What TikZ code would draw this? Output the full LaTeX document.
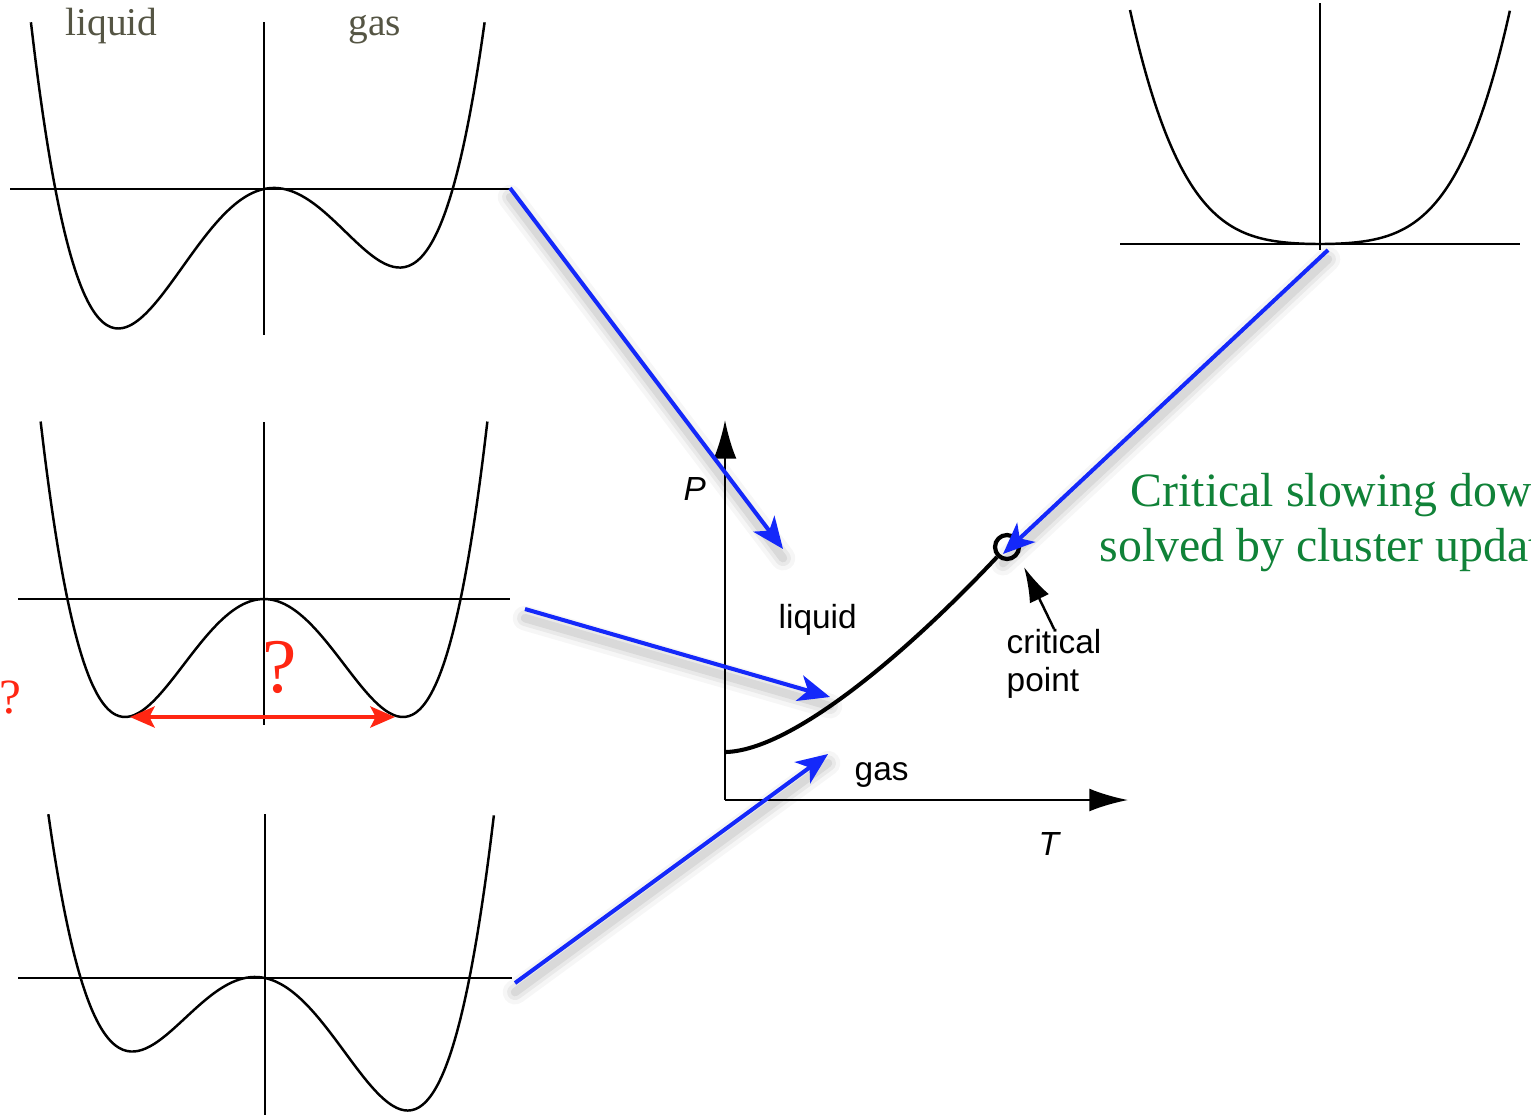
\documentclass[tikz,border=0pt]{standalone}
\usepackage{fontspec}
\setmainfont{Liberation Serif}
\setsansfont{Liberation Sans}
\usetikzlibrary{arrows.meta}

\definecolor{myblue}{RGB}{20,40,250}
\definecolor{myred}{RGB}{255,38,18}
\definecolor{mygreen}{RGB}{16,130,56}
\definecolor{mygray}{RGB}{85,85,68}

\tikzset{
	potaxis/.style={black, line width=0.45pt},
	potcurve/.style={black, line width=0.7pt},
	phaseaxis/.style={black, line width=0.65pt, -{Latex[length=11pt,width=6.5pt]}},
	phaselabel/.style={font=\sffamily\fontsize{9.5}{10.8}\selectfont, inner sep=0pt},
	welllabel/.style={text=mygray, font=\fontsize{11.2}{13}\selectfont, inner sep=0pt, anchor=base west},
	qmark/.style={text=myred, inner sep=0pt, anchor=base},
	slowtext/.style={text=mygreen, font=\fontsize{13.6}{15.6}\selectfont, inner sep=0pt, anchor=base west},
	redarrow/.style={draw=myred, line width=1.1pt,
		{Stealth[length=7pt,width=6pt,inset=1.5pt]}-{Stealth[length=7pt,width=6pt,inset=1.5pt]}},
	critarrow/.style={black, line width=0.7pt, -{Latex[length=10pt,width=6pt]}},
	bluearrow/.style={draw=myblue, line width=1.15pt, -{Stealth[length=9pt,width=7.5pt,inset=2.5pt]},
		preaction={draw=black, opacity=0.035, line width=7pt, line cap=round, arrows=-,
			transform canvas={yshift=-2.6pt}},
		preaction={draw=black, opacity=0.05, line width=4.5pt, line cap=round, arrows=-,
			transform canvas={yshift=-2.6pt}},
		preaction={draw=black, opacity=0.07, line width=2.4pt, line cap=round, arrows=-,
			transform canvas={yshift=-2.6pt}}}
}

\begin{document}
\begin{tikzpicture}[x=0.01cm, y=-0.01cm]
	
	\useasboundingbox (0,0) rectangle (1531,1115);
	\clip (0,0) rectangle (1531,1115);
	
	% upper well, liquid deeper
	\draw[potaxis] (10,189) -- (510,189);
	\draw[potaxis] (264,22) -- (264,335);
	\draw[potcurve] plot[domain=-1.653:1.565, samples=120, smooth]
		({264+141*\x},{189-108.5*(\x*\x*\x*\x-2*\x*\x+0.281*\x)});
	\node[welllabel] (liqlbl) at (65,35) {liquid};
	\node[welllabel] (gaslbl) at (348,35) {gas};
	\coordinate (wellA) at (510,188);
	
	% symmetric well
	\draw[potaxis] (18,599) -- (510,599);
	\draw[potaxis] (264,422) -- (264,725);
	\draw[potcurve] plot[domain=-1.607:1.607, samples=120, smooth]
		({264+139*\x},{599-118*(\x*\x*\x*\x-2*\x*\x)});
	\coordinate (lmin) at (130,717);
	\coordinate (rmin) at (395,717);
	\draw[redarrow] (lmin) -- (rmin);
	\node[qmark, font=\fontsize{22}{24}\selectfont] (qmid) at (280,692) {?};
	\node[qmark, font=\fontsize{14}{16}\selectfont] (qleft) at (10,713) {?};
	\coordinate (wellB) at (525,609);
	
	% lower well, gas deeper
	\draw[potaxis] (18,978) -- (512,978);
	\draw[potaxis] (265,814) -- (265,1115);
	\draw[potcurve] plot[domain=-1.57:1.66, samples=120, smooth]
		({265+138*\x},{978-102.5*(\x*\x*\x*\x-2*\x*\x-0.288*\x)});
	\coordinate (wellC) at (515,983);
	
	% flat well at the critical point
	\draw[potaxis] (1120,244) -- (1520,244);
	\draw[potaxis] (1320,3) -- (1320,250);
	\draw[potcurve] plot[domain=-1:1, samples=120, smooth]
		({1320+190*\x},{244-234*(0.83*\x*\x*\x*\x+0.17*\x*\x)});
	\coordinate (wellD) at (1328,250);
	
	% phase diagram
	\coordinate (origin) at (725,800);
	\draw[phaseaxis] (origin) -- (725,420);
	\draw[phaseaxis] (origin) -- (1128,800);
	\node[phaselabel, anchor=base west] (plbl) at (683,500) {\textit{P}};
	\node[phaselabel, anchor=base west] (tlbl) at (1038,855) {\textit{T}};
	\node[phaselabel, anchor=base west] (liqreg) at (778,628) {liquid};
	\node[phaselabel, anchor=base west] (gasreg) at (854,780) {gas};
	
	\node[circle, draw, line width=1.2pt, minimum size=0.24cm, inner sep=0pt] (crit) at (1007,547) {};
	\draw[line width=1.15pt] (726,752) .. controls (790,750) and (900,660) .. (crit.225);
	\node[phaselabel, anchor=north west, align=left] (critlbl) at (1006,629) {critical\\point};
	\coordinate (crittip) at (1024,567);
	\draw[critarrow] (critlbl.north) -- (crittip);
	
	% blue arrows
	\coordinate (liqpt) at (783,549);
	\coordinate (coexpt) at (830,697);
	\coordinate (gaspt) at (828,754);
	\coordinate (critpt) at (1003,554);
	\draw[bluearrow] (wellA) -- (liqpt);
	\draw[bluearrow] (wellB) -- (coexpt);
	\draw[bluearrow] (wellC) -- (gaspt);
	\draw[bluearrow] (wellD) -- (critpt);
	
	\node[slowtext] (slowtxt) at (1130,506) {Critical slowing down};
	\node[slowtext] (clustertxt) at (1099,561) {solved by cluster updates};
	
\end{tikzpicture}
\end{document}
